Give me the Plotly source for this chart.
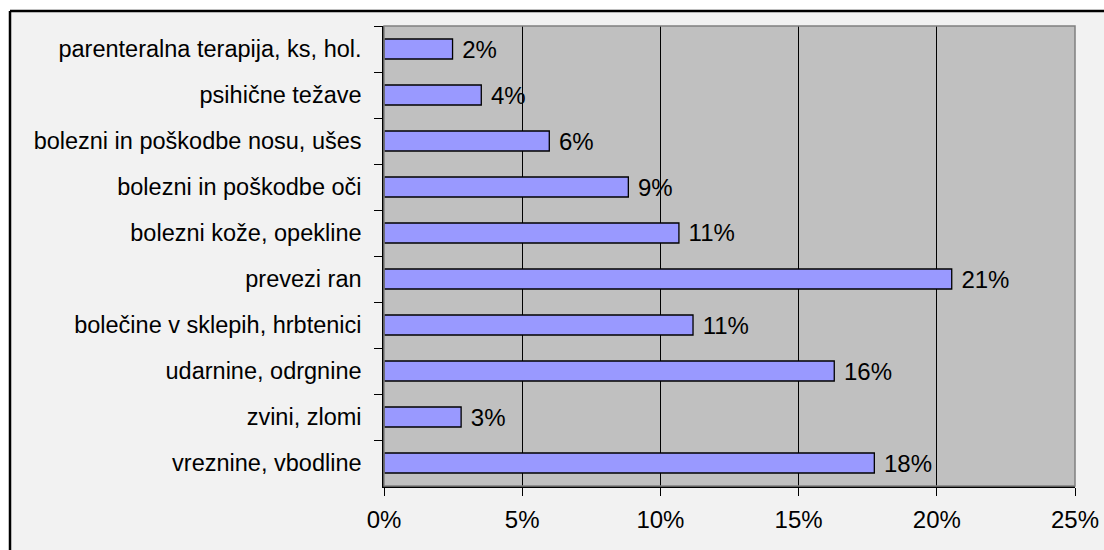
import plotly.graph_objects as go

categories = [
    "parenteralna terapija, ks, hol.",
    "psihične težave",
    "bolezni in poškodbe nosu, ušes",
    "bolezni in poškodbe oči",
    "bolezni kože, opekline",
    "prevezi ran",
    "bolečine v sklepih, hrbtenici",
    "udarnine, odrgnine",
    "zvini, zlomi",
    "vreznine, vbodline",
]
values = [2.48, 3.52, 5.98, 8.84, 10.67, 20.54, 11.18, 16.29, 2.79, 17.74]
x_ticks = [0, 5, 10, 15, 20, 25]
x_tick_labels = ["0%", "5%", "10%", "15%", "20%", "25%"]

FONT = "Liberation Sans, Arial, sans-serif"

fig = go.Figure(
    go.Bar(
        x=values,
        y=categories,
        orientation="h",
        marker=dict(color="#9999FF", line=dict(color="#000000", width=1.3)),
        text=["\u00a0" + f"{round(v)}%" for v in values],
        textposition="outside",
        constraintext="none",
        cliponaxis=False,
        textfont=dict(family=FONT, size=24, color="#000000"),
        hoverinfo="skip",
    )
)

W, H = 1104, 550
L, R, T, B = 384, 29, 26, 64
pw, ph = W - L - R, H - T - B


def px_to_paper_x(p):
    return (p - L) / pw


def px_to_paper_y(p):
    return (H - B - p) / ph


left_edge, right_edge = px_to_paper_x(0), px_to_paper_x(W)
top_edge, bottom_edge = px_to_paper_y(0), px_to_paper_y(H)
bx0 = px_to_paper_x(10)
by1 = px_to_paper_y(11)
border = dict(color="#000000", width=2.5)
white = dict(width=0)

fig.update_layout(
    width=W,
    height=H,
    margin=dict(l=L, r=R, t=T, b=B, pad=0),
    paper_bgcolor="#F2F2F2",
    plot_bgcolor="#C0C0C0",
    bargap=0.565,
    showlegend=False,
    font=dict(family=FONT, size=24, color="#000000"),
    shapes=[
        # white page strips outside the chart frame
        dict(type="rect", xref="paper", yref="paper", layer="below",
             x0=left_edge, x1=bx0, y0=bottom_edge, y1=top_edge,
             fillcolor="#FFFFFF", line=white),
        dict(type="rect", xref="paper", yref="paper", layer="below",
             x0=left_edge, x1=right_edge, y0=by1, y1=top_edge,
             fillcolor="#FFFFFF", line=white),
        # chart frame (top and left)
        dict(type="line", xref="paper", yref="paper", layer="below",
             x0=bx0, x1=right_edge, y0=by1, y1=by1, line=border),
        dict(type="line", xref="paper", yref="paper", layer="below",
             x0=bx0, x1=bx0, y0=bottom_edge, y1=by1, line=border),
        # plot area fill + border
        dict(type="rect", xref="paper", yref="paper", layer="below",
             x0=0, x1=1, y0=0, y1=1,
             fillcolor="#C0C0C0", line=white),
        dict(type="rect", xref="paper", yref="paper", layer="above",
             x0=0, x1=1, y0=0, y1=1,
             line=dict(color="#808080", width=1.5)),
    ],
)

fig.update_xaxes(
    range=[0, 25],
    tickmode="array",
    tickvals=x_ticks,
    ticktext=x_tick_labels,
    showgrid=True,
    gridcolor="#000000",
    gridwidth=1,
    zeroline=False,
    showline=True,
    linecolor="#000000",
    linewidth=1.5,
    ticks="outside",
    ticklen=8,
    tickcolor="#000000",
    tickfont=dict(family=FONT, size=24, color="#000000"),
    ticklabelstandoff=3,
    automargin=False,
    fixedrange=True,
)

fig.update_yaxes(
    autorange="reversed",
    showgrid=False,
    zeroline=False,
    showline=True,
    linecolor="#000000",
    linewidth=1.5,
    ticks="outside",
    tickson="boundaries",
    ticklen=8,
    tickcolor="#000000",
    tickfont=dict(family=FONT, size=23.5, color="#000000"),
    ticklabelstandoff=16,
    automargin=False,
    fixedrange=True,
)

fig.write_html(
    "out.html",
    config={"displayModeBar": False},
    post_script="document.body.style.margin='0px';document.body.style.overflow='hidden';",
)
